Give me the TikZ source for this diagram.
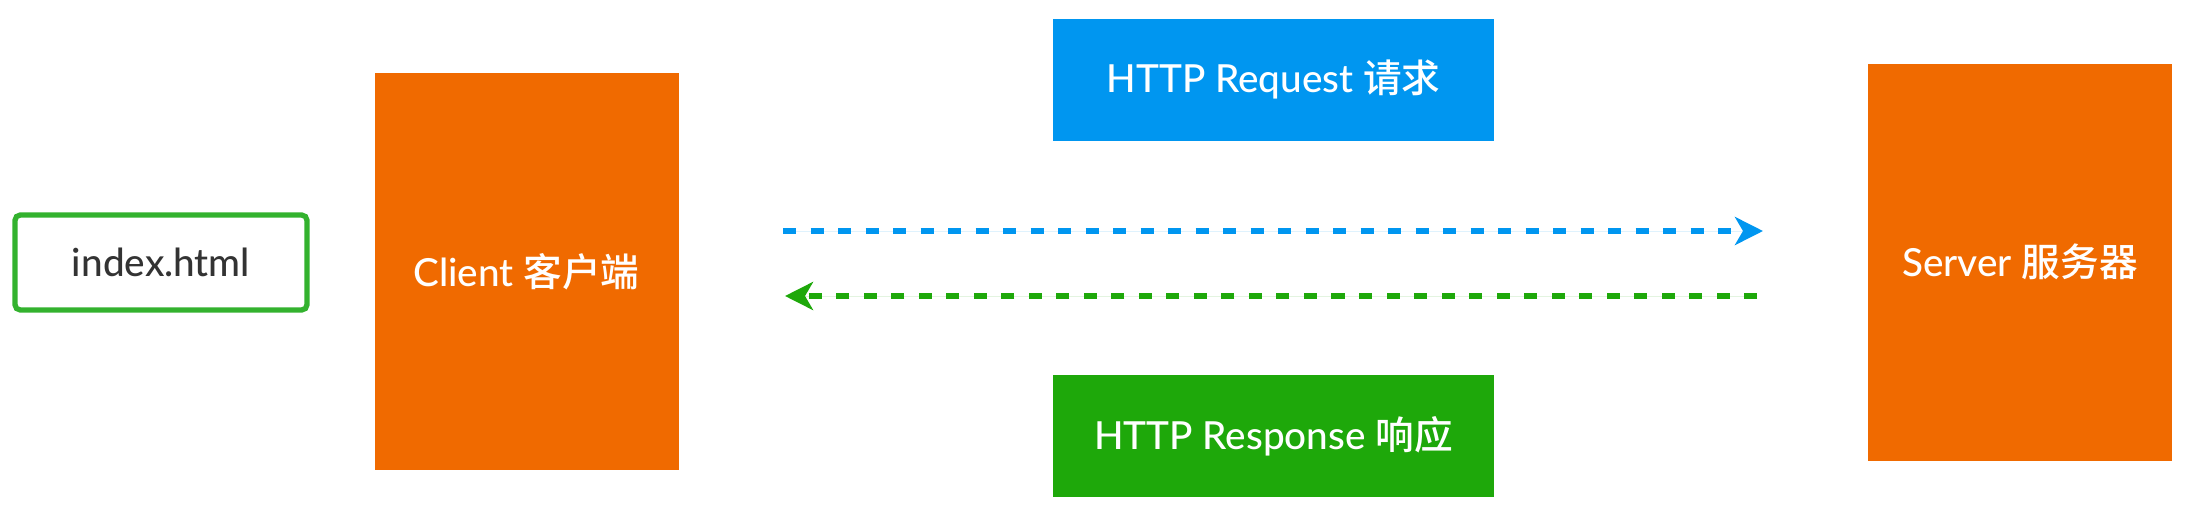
\documentclass[tikz,border=0pt]{standalone}
\usepackage{fontspec}
\setmainfont{Lato}[UprightFont=* Medium]
\newfontfamily\cjk{Noto Sans CJK SC Medium}
\usepackage{tikz}
\usetikzlibrary{arrows.meta, positioning}
\definecolor{boxorange}{HTML}{F06A00}
\definecolor{reqblue}{HTML}{0096F0}
\definecolor{respgreen}{HTML}{1EA80A}
\definecolor{filegreen}{HTML}{33B22E}
\definecolor{filetext}{HTML}{333333}

\begin{document}
\begin{tikzpicture}[
    >=Stealth,
    font=\fontsize{11}{13}\selectfont,
    block/.style={fill=boxorange, text=white, inner sep=0pt, minimum width=3.04cm, minimum height=3.97cm},
    msgbox/.style={text=white, inner sep=0pt, minimum width=4.41cm, minimum height=1.22cm},
    flow/.style={line width=1.7pt, dash pattern=on 0.13cm off 0.145cm,
                 -{Stealth[length=0.28cm, width=0.28cm, inset=0.08cm]}}
  ]
    \useasboundingbox (0,0) rectangle (21.93,5.16);

    % File on the client side
    \node[draw=filegreen, line width=1.5pt, rounded corners=1.5pt, text=filetext,
          minimum width=2.92cm, minimum height=0.95cm, inner sep=0pt] (file) at (1.61, 2.535) {index.html};

    % Client and server
    \node[block] (client) at (5.265, 2.445) {Client {\cjk 客户端}};
    \node[block] (server) at (20.20, 2.54) {Server {\cjk 服务器}};

    % Request / response labels
    \node[msgbox, fill=reqblue] (request) at (12.735, 4.365) {HTTP Request {\cjk 请求}};
    \node[msgbox, fill=respgreen] (response) at (12.735, 0.80) {HTTP Response {\cjk 响应}};

    % Dashed arrows
    \coordinate (reqfrom) at (7.83, 2.85);
    \coordinate (reqto) at (17.63, 2.85);
    \coordinate (respfrom) at (17.57, 2.20);
    \coordinate (respto) at (7.85, 2.20);
    \draw[flow, draw=reqblue, fill=reqblue] (reqfrom) -- (reqto);
    \draw[flow, draw=respgreen, fill=respgreen] (respfrom) -- (respto);
  \end{tikzpicture}
\end{document}
